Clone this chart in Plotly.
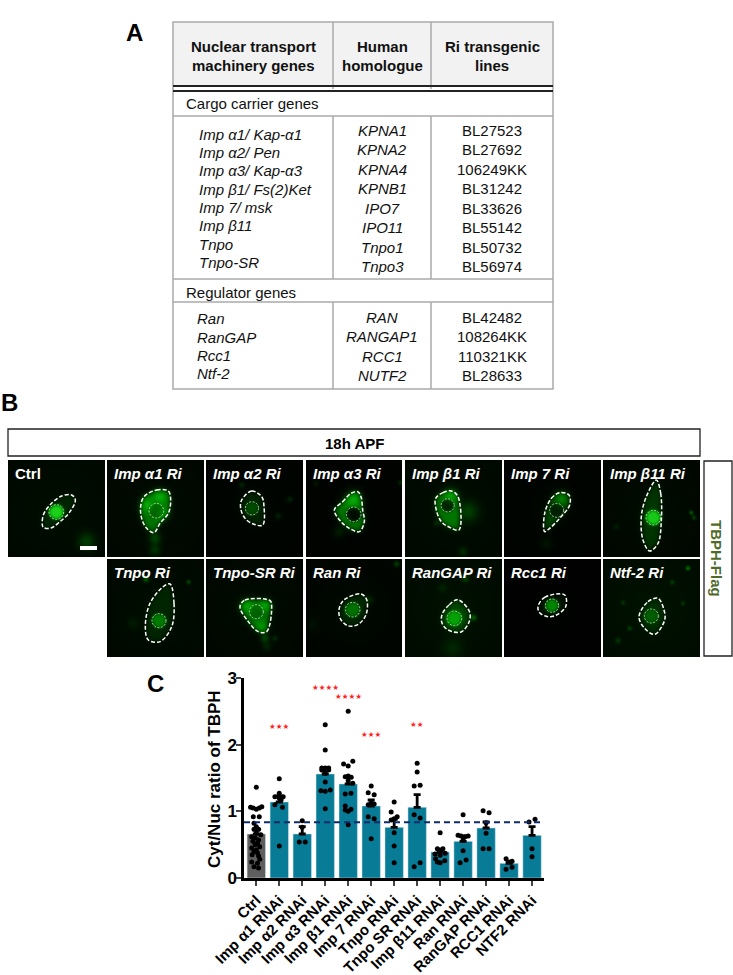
import numpy as np
import plotly.graph_objects as go

W, H = 733, 975

# ---------- Panel C data ----------
categories = ["Ctrl", "Imp α1 RNAi", "Imp α2 RNAi", "Imp α3 RNAi", "Imp β1 RNAi", "Imp 7 RNAi", "Tnpo RNAi",
              "Tnpo SR RNAi", "Imp β11 RNAi", "Ran RNAi", "RanGAP RNAi", "RCC1 RNAi", "NTF2 RNAi"]
means = [0.66, 1.14, 0.66, 1.56, 1.41, 1.08, 0.76, 1.06, 0.39, 0.55, 0.75, 0.22, 0.64]
errors = [0.06, 0.09, 0.11, 0.10, 0.10, 0.09, 0.12, 0.19, 0.03, 0.08, 0.09, 0.03, 0.13]
threshold = 0.835
y_ticks = [0, 1, 2, 3]
y_title = "Cyt/Nuc ratio of TBPH"
sig_labels = {1: (2.27, "★★★"), 3: (2.86, "★★★★"), 4: (2.72, "★★★★"), 5: (2.16, "★★★"), 7: (2.31, "★★")}

dots_ctrl = [(0, 1.36), (-.25, 1.06), (-.14, 1.05), (0, 1.03), (.13, 1.05), (.24, 1.07), (-.13, .92), (.13, .92),
             (-.1, .82), (0, .77), (.1, .73), (-.1, .73), (0, .67), (.2, .65), (-.2, .62), (-.05, .6), (.1, .57),
             (-.15, .55), (.05, .52), (-.05, .5), (.15, .47), (-.2, .45), (0, .42), (-.1, .4), (.05, .38), (-.18, .35),
             (.1, .33), (.15, .28), (-.2, .24), (.05, .22), (-.1, .17), (.1, .15)]
dots_a1 = [(0, 1.49), (0, 1.27), (-.19, 1.22), (.17, 1.22), (0, 1.2), (.08, 1.17), (-.19, 1.1), (.14, 1.06), (0, .48)]
dots_a2 = [(0, .86), (-.13, .54), (.13, .54), (0, .76)]
dots_a3 = [(0, 2.3), (0, 1.92), (-.15, 1.65), (0, 1.65), (.15, 1.65), (-.15, 1.62), (.15, 1.62), (0, 1.57), (0, 1.44),
           (-.19, 1.31), (0, 1.3), (.22, 1.32), (0, 1.04)]
dots_b1 = [(0, 2.5), (-.2, 1.71), (0, 1.68), (.2, 1.75), (-.13, 1.52), (0, 1.53), (.13, 1.51), (0, 1.46), (.2, 1.42),
           (-.13, 1.26), (.12, 1.27), (-.13, 1.08), (-.13, 1.02), (0, 1.0), (.12, 1.03), (0, .8)]
dots_i7 = [(0, 1.38), (-.13, 1.28), (.13, 1.25), (-.13, 1.1), (0, 1.13), (.13, 1.11), (-.13, .92), (.13, .89), (0, .59)]
dots_tnpo = [(0, 1.14), (-.13, .99), (.13, .92), (0, .89), (-.13, .87), (0, .68), (0, .48), (0, .23)]
dots_sr = [(0, 1.72), (0, 1.59), (-.13, 1.38), (.13, 1.39), (-.13, .95), (.13, .9), (-.13, .17), (.13, .23)]
dots_b11 = [(0, .68), (-.12, .44), (.12, .44), (0, .42), (-.22, .36), (.22, .37), (0, .34), (-.2, .29), (.2, .26),
            (0, .23), (-.12, .24)]
dots_ran = [(0, .95), (-.22, .64), (-.09, .63), (.09, .62), (.22, .63), (0, .57), (0, .41), (.13, .27), (-.13, .23)]
dots_gap = [(-.13, 1.01), (.13, .98), (0, .83), (0, .67), (-.13, .44), (.13, .44)]
dots_rcc = [(-.13, .29), (0, .24), (.13, .25), (.13, .16), (-.13, .13)]
dots_ntf = [(-.13, .84), (.13, .88), (0, .44), (0, .32)]
all_dots = [dots_ctrl, dots_a1, dots_a2, dots_a3, dots_b1, dots_i7, dots_tnpo, dots_sr, dots_b11, dots_ran, dots_gap,
            dots_rcc, dots_ntf]

# ---------- Panel A data ----------
table_head_1 = ["Nuclear transport", "Human", "Ri transgenic"]
table_head_2 = ["machinery genes", "homologue", "lines"]
cargo_genes = ["Imp α1/ Kap-α1", "Imp α2/ Pen", "Imp α3/ Kap-α3", "Imp β1/ Fs(2)Ket", "Imp 7/ msk", "Imp β11", "Tnpo",
               "Tnpo-SR"]
cargo_homologs = ["KPNA1", "KPNA2", "KPNA4", "KPNB1", "IPO7", "IPO11", "Tnpo1", "Tnpo3"]
cargo_lines = ["BL27523", "BL27692", "106249KK", "BL31242", "BL33626", "BL55142", "BL50732", "BL56974"]
reg_genes = ["Ran", "RanGAP", "Rcc1", "Ntf-2"]
reg_homologs = ["RAN", "RANGAP1", "RCC1", "NUTF2"]
reg_lines = ["BL42482", "108264KK", "110321KK", "BL28633"]

# ---------- Panel B picture description ----------
def z3(pts): return [(x / 3, 390 + y / 3) for x, y in pts]
def z4(pts): return [(363 + x / 3, 420 + y / 3) for x, y in pts]
def z7(pts): return [(306 + x / 3, 460 + y / 3) for x, y in pts]
def z9(pts): return [(306 + x / 3, 558 + y / 3) for x, y in pts]

COLS = [(8, 105), (107, 204), (206, 303), (306, 402), (405, 502), (504, 601), (603, 700)]
ROWS = [(460, 557), (559, 657)]
panels = [
    dict(label="Ctrl", col=0, row=0, italic=False,
         out=z3([(127, 405), (130, 375), (150, 345), (185, 318), (215, 315), (226, 330), (210, 365), (180, 395), (150, 415), (130, 412)]),
         nuc=z3([(169, 366)])[0] + (7.3,), cy=.10, nl=.85, haze=.035,
         blobs=z3([(260, 455)]), amps=[(6, .2)]),
    dict(label="Imp α1 Ri", col=1, row=0,
         out=z3([(432, 320), (470, 300), (505, 303), (512, 330), (505, 370), (480, 400), (462, 428), (440, 415), (425, 385), (422, 350)]),
         nuc=z3([(469, 362)])[0] + (7.3,), cy=.42, nl=.36, haze=.03,
         blobs=z3([(465, 445), (465, 480), (480, 320), (440, 345), (490, 370)]), amps=[(4, .22), (4, .16), (5, .22), (5, .22), (5, .15)]),
    dict(label="Imp α2 Ri", col=2, row=0,
         out=z3([(725, 330), (755, 303), (785, 320), (792, 350), (788, 405), (760, 402), (735, 385), (722, 355)]),
         nuc=z3([(756, 355)])[0] + (6.6,), cy=.12, nl=.3, haze=.015,
         blobs=z3([(870, 328), (835, 378), (725, 285)]), amps=[(2, .12), (2, .12), (2, .12)]),
    dict(label="Imp α3 Ri", col=3, row=0,
         out=z7([(85, 150), (110, 125), (135, 100), (155, 95), (165, 110), (170, 150), (175, 185), (160, 215), (130, 205), (105, 185)]),
         nuc=z7([(143, 163)])[0] + (7.3,), cy=.45, nl=.04, haze=.012,
         blobs=z7([(285, 68), (30, 70), (100, 215), (140, 118)]), amps=[(2, .15), (2, .08), (4, .1), (6, .22)]),
    dict(label="Imp β1 Ri", col=4, row=0,
         out=z4([(218, 235), (240, 218), (265, 213), (285, 230), (288, 330), (260, 322), (235, 305), (220, 270)]),
         nuc=z4([(254, 256)])[0] + (6.6,), cy=.42, nl=.13, haze=.035,
         blobs=z4([(315, 275), (300, 395), (220, 310), (265, 225)]), amps=[(7, .2), (3, .14), (2, .12), (5, .22)]),
    dict(label="Imp 7 Ri", col=5, row=0,
         out=z4([(545, 280), (565, 235), (590, 218), (618, 225), (620, 255), (590, 295), (560, 325), (545, 335)]),
         nuc=z4([(581, 271)])[0] + (7,), cy=.25, nl=.12, haze=.015,
         blobs=z4([(595, 235), (550, 370)]), amps=[(5, .25), (4, .06)]),
    dict(label="Imp β11 Ri", col=6, row=0,
         out=z4([(880, 180), (893, 220), (895, 300), (885, 370), (860, 393), (840, 360), (835, 290), (850, 230)]),
         nuc=z4([(871, 293)])[0] + (7.3,), cy=.17, nl=.82, haze=.03,
         blobs=z4([(985, 278), (993, 293), (760, 320)]), amps=[(1.5, .3), (1.5, .22), (2, .08)]),
    dict(label="Tnpo Ri", col=1, row=1,
         out=z3([(510, 582), (522, 640), (515, 710), (480, 755), (445, 750), (436, 710), (450, 640), (490, 590)]),
         nuc=z3([(477, 692)])[0] + (7,), cy=.1, nl=.5, haze=.035,
         blobs=z3([(438, 568), (566, 576), (400, 700)]), amps=[(2, .3), (1.5, .25), (4, .06)]),
    dict(label="Tnpo-SR Ri", col=2, row=1,
         out=z3([(720, 650), (735, 630), (810, 632), (815, 650), (800, 725), (775, 725), (745, 695)]),
         nuc=z3([(769, 665)])[0] + (7,), cy=.42, nl=.38, haze=.03,
         blobs=z3([(795, 745), (825, 745), (800, 770), (740, 648), (795, 645), (785, 710)]),
         amps=[(3, .22), (2, .12), (3, .1), (5, .2), (4, .2), (4, .15)]),
    dict(label="Ran Ri", col=3, row=1,
         out=z9([(100, 150), (115, 125), (165, 108), (182, 125), (180, 170), (155, 200), (125, 203), (102, 180)]),
         nuc=z9([(140, 155)])[0] + (7.3,), cy=.13, nl=.46, haze=.02,
         blobs=z9([(272, 18), (190, 125), (20, 200)]), amps=[(2, .22), (3, .12), (5, .04)]),
    dict(label="RanGAP Ri", col=4, row=1,
         out=z9([(408, 170), (430, 140), (455, 125), (490, 160), (490, 190), (465, 222), (425, 215), (408, 195)]),
         nuc=z9([(445, 181)])[0] + (7.3,), cy=.22, nl=.66, haze=.045,
         blobs=z9([(503, 179), (478, 62), (410, 90), (440, 270)]), amps=[(2, .32), (2.5, .2), (3, .08), (7, .1)]),
    dict(label="Rcc1 Ri", col=5, row=1,
         out=z4([(525, 560), (545, 532), (605, 525), (608, 560), (580, 585), (555, 590), (530, 578)]),
         nuc=z4([(567, 557)])[0] + (6.6,), cy=.08, nl=.55, haze=.006,
         blobs=[], amps=[]),
    dict(label="Ntf-2 Ri", col=6, row=1,
         out=z4([(828, 590), (855, 545), (885, 535), (903, 570), (905, 600), (875, 643), (845, 625)]),
         nuc=z4([(865, 588)])[0] + (7,), cy=.11, nl=.38, haze=.05,
         blobs=z4([(975, 445), (928, 487), (780, 548), (800, 625), (765, 662), (960, 550)]),
         amps=[(1.5, .4), (1.5, .2), (1.5, .15), (1.5, .2), (2, .15), (1.5, .15)]),
]

# ---------- Raster for the micrographs ----------
IMG_X0, IMG_Y0, IMG_W, IMG_H = 0, 455, 705, 205
img = np.full((IMG_H, IMG_W, 3), 255, dtype=np.uint8)


def in_poly(px, py, poly):
    inside = np.zeros(px.shape, bool)
    n = len(poly)
    for i in range(n):
        x1, y1 = poly[i]
        x2, y2 = poly[(i + 1) % n]
        with np.errstate(divide="ignore", invalid="ignore"):
            cross = ((y1 > py) != (y2 > py)) & (px < (x2 - x1) * (py - y1) / (y2 - y1) + x1)
        inside ^= cross
    return inside


def blur(a, s):
    r = int(3 * s) + 1
    k = np.exp(-np.arange(-r, r + 1) ** 2 / (2 * s * s))
    k /= k.sum()
    pad = np.pad(a, r, mode="edge")
    pad = np.apply_along_axis(lambda v: np.convolve(v, k, mode="same"), 0, pad)
    pad = np.apply_along_axis(lambda v: np.convolve(v, k, mode="same"), 1, pad)
    return pad[r:-r, r:-r]


for p in panels:
    x0, x1 = COLS[p["col"]]
    y0, y1 = ROWS[p["row"]]
    xs, ys = np.meshgrid(np.arange(x0, x1) + .5, np.arange(y0, y1) + .5)
    v = p["haze"] * (1 + .5 * np.exp(-((xs - (x0 + x1) / 2) ** 2 + (ys - (y0 + y1) / 2) ** 2) / (2 * 28 ** 2)))
    cell = blur(in_poly(xs, ys, p["out"]).astype(float), 2.5)
    nx, ny, nr = p["nuc"]
    nmask = blur((((xs - nx) ** 2 + (ys - ny) ** 2) < nr ** 2).astype(float), 1.5)
    v = v + cell * p["cy"]
    v = v * (1 - nmask) + p["nl"] * nmask
    for (bx, by), (s, a) in zip(p["blobs"], p["amps"]):
        v = v + a * np.exp(-((xs - bx) ** 2 + (ys - by) ** 2) / (2 * s * s))
    v = np.clip(v, 0, 1)
    g = np.clip(v * 245, 0, 255)
    rb = np.clip((v - .6) * 110, 0, 60)
    tile = np.dstack([rb, g, rb]).astype(np.uint8)
    img[y0 - IMG_Y0:y1 - IMG_Y0, x0 - IMG_X0:x1 - IMG_X0] = tile

# ---------- Figure ----------
fig = go.Figure()
FONT = "Liberation Sans"
GRID = "#aaaaaa"

fig.add_trace(go.Image(z=img.tolist(), x0=IMG_X0 + .5, y0=IMG_Y0 + .5, dx=1, dy=1, xaxis="x2", yaxis="y2",
                       hoverinfo="skip"))

xs_cat = list(range(len(categories)))
XMIN, XMAX = -0.535, 12.52
fig.add_trace(go.Bar(x=xs_cat, y=means, width=.8,
                     marker=dict(color=["#5f5f5f"] + ["#087b96"] * 12, line=dict(color="#cfe3e8", width=.5)),
                     error_y=dict(type="data", symmetric=False, array=errors, arrayminus=[0] * len(errors),
                                  thickness=2.8, width=3.5, color="black"),
                     xaxis="x", yaxis="y", hoverinfo="skip"))
fig.add_trace(go.Scatter(x=[i + d[0] for i, ds in enumerate(all_dots) for d in ds],
                         y=[d[1] for ds in all_dots for d in ds], mode="markers",
                         marker=dict(color="black", size=5), xaxis="x", yaxis="y", hoverinfo="skip"))
fig.add_trace(go.Scatter(x=[XMIN, XMAX], y=[threshold, threshold], mode="lines",
                         line=dict(color="#0f2a6b", width=2, dash="6px,4px"), xaxis="x", yaxis="y", hoverinfo="skip"))

# Cell outlines
for p in panels:
    pts = p["out"] + [p["out"][0]]
    fig.add_trace(go.Scatter(x=[q[0] for q in pts], y=[q[1] for q in pts], mode="lines", xaxis="x2", yaxis="y2",
                             line=dict(color="white", width=1.5, dash="4px,2px", shape="spline", smoothing=1),
                             hoverinfo="skip"))

shapes = []
annos = []


def line(x0, y0, x1, y1, color=GRID, width=1.5):
    shapes.append(dict(type="line", xref="x2", yref="y2", x0=x0, y0=y0, x1=x1, y1=y1,
                       line=dict(color=color, width=width)))


def text(x, y, s, size=15, color="#111111", anchor="center", bold=False, italic=False, angle=0):
    if italic: s = f"<i>{s}</i>"
    annos.append(dict(x=x, y=y, xref="x2", yref="y2", text=s, showarrow=False, xanchor=anchor, yanchor="middle",
                      textangle=angle, font=dict(family=FONT, size=size, color=color, weight=700 if bold else 400)))


# Table
TL, TR, TT, TB = 173, 553, 22, 389
C1, C2 = 333, 431
CX = [253, 382, 492]
shapes.append(dict(type="rect", xref="x2", yref="y2", x0=TL, x1=TR, y0=TT, y1=86, fillcolor="#f2f2f2",
                   line=dict(width=0), layer="below"))
shapes.append(dict(type="rect", xref="x2", yref="y2", x0=TL, x1=TR, y0=TT, y1=TB, line=dict(color=GRID, width=1.5)))
for cx in (C1, C2):
    line(cx, TT, cx, 89)
    line(cx, 116, cx, 279)
    line(cx, 302, cx, TB)
line(TL, 116, TR, 116)
line(TL, 279, TR, 279)
line(TL, 302, TR, 302)
line(TL, 86, TR, 86, "#222222", 2)
line(TL, 91, TR, 91, "#222222", 2)
for i in range(3):
    text(CX[i], 46, table_head_1[i], bold=True)
    text(CX[i], 65, table_head_2[i], bold=True)
text(184, 103, "Cargo carrier genes", anchor="left")
text(184, 292, "Regulator genes", anchor="left")
gene_y = [134, 152, 170, 189, 207, 225, 244, 262]
hom_y = [130, 149, 169, 188, 208, 227, 247, 266]
for i in range(8):
    text(197, gene_y[i], cargo_genes[i], anchor="left", italic=True)
    text(CX[1], hom_y[i], cargo_homologs[i], italic=True)
    text(CX[2], hom_y[i], cargo_lines[i])
reg_gene_y = [318, 337, 355, 373]
reg_hom_y = [317, 336, 356, 375]
for i in range(4):
    text(195, reg_gene_y[i], reg_genes[i], anchor="left", italic=True)
    text(CX[1], reg_hom_y[i], reg_homologs[i], italic=True)
    text(CX[2], reg_hom_y[i], reg_lines[i])

# Panel letters
text(134, 32, "A", size=24, color="black", bold=True)
text(9, 402, "B", size=24, color="black", bold=True)
text(155, 683, "C", size=24, color="black", bold=True)

# Panel B furniture
shapes.append(dict(type="rect", xref="x2", yref="y2", x0=8, x1=700, y0=429, y1=456, line=dict(color="#222222", width=1.3)))
text(354, 443, "18h APF", bold=True, color="black")
shapes.append(dict(type="rect", xref="x2", yref="y2", x0=704, x1=732, y0=461, y1=656, line=dict(color="#222222", width=1.3)))
text(717, 558, "TBPH-Flag", color="#4f6b2c", bold=True, angle=90)
shapes.append(dict(type="rect", xref="x2", yref="y2", x0=80, x1=97, y0=546, y1=550, fillcolor="white", line=dict(width=0)))
for p in panels:
    nx, ny, nr = p["nuc"]
    shapes.append(dict(type="circle", xref="x2", yref="y2", x0=nx - nr, x1=nx + nr, y0=ny - nr, y1=ny + nr,
                       line=dict(color="#e8ffe8", width=.7, dash="2px,1.5px")))
    lx = COLS[p["col"]][0] + 5
    ly = ROWS[p["row"]][0] + 13
    text(lx, ly, p["label"], color="white", anchor="left", bold=True, italic=p.get("italic", True))

# Significance stars
for idx, (val, stars) in sig_labels.items():
    annos.append(dict(x=idx, y=val, xref="x", yref="y", text=stars, showarrow=False,
                      font=dict(family="DejaVu Sans", size=7.5, color="#ff1f1f")))
annos.append(dict(x=214, y=779, xref="x2", yref="y2", text=y_title, showarrow=False, textangle=-90,
                  font=dict(family=FONT, size=17, color="black", weight=700)))

fig.update_layout(
    template="none",
    width=W, height=H, margin=dict(l=0, r=0, t=0, b=0, pad=0, autoexpand=False), showlegend=False,
    paper_bgcolor="white", plot_bgcolor="rgba(0,0,0,0)", bargap=.2,
    xaxis=dict(domain=[244 / W, 544 / W], range=[XMIN, XMAX], tickmode="array", tickvals=xs_cat, ticktext=categories,
               tickangle=-45, ticks="outside", ticklen=5, tickwidth=2, showgrid=False, zeroline=False, automargin=False,
               showline=True, linecolor="black", linewidth=2.5,
               tickfont=dict(family=FONT, size=15, color="black", weight=700)),
    yaxis=dict(domain=[(H - 878) / H, (H - 678) / H], range=[0, 3], tickmode="array", tickvals=y_ticks, ticks="outside",
               ticklen=5, tickwidth=2, showgrid=False, zeroline=False, showline=True, linecolor="black", linewidth=2.5,
               ticklabelstandoff=-4, automargin=False, tickfont=dict(family=FONT, size=17, color="black", weight=700)),
    xaxis2=dict(domain=[0, 1], range=[0, W], visible=False, anchor="y2", fixedrange=True, automargin=False),
    yaxis2=dict(domain=[0, 1], range=[H, 0], visible=False, anchor="x2", fixedrange=True, automargin=False),
    shapes=shapes, annotations=annos,
)

fig.write_html("out.html", config=dict(displayModeBar=False),
               post_script="document.body.style.margin='0';document.body.style.overflow='hidden';")
